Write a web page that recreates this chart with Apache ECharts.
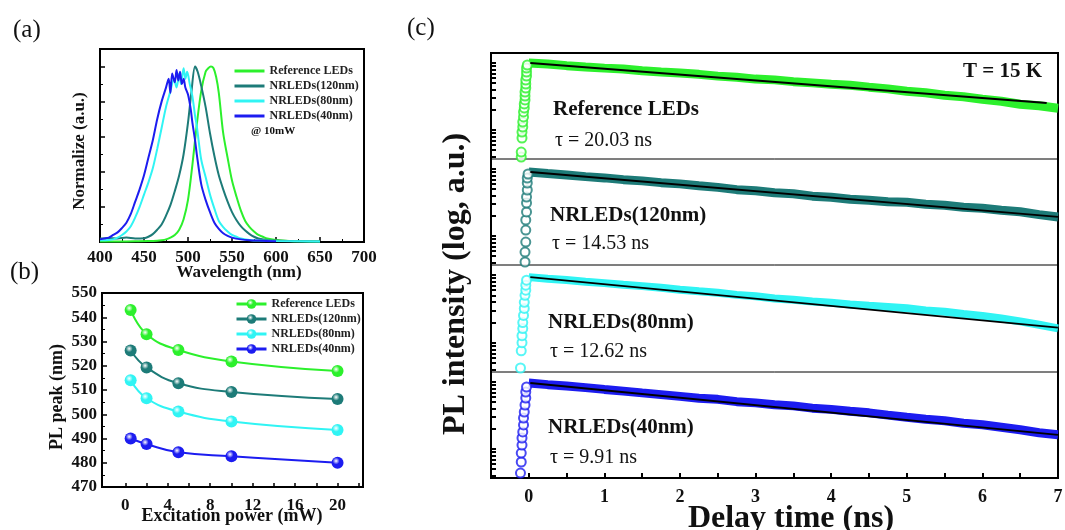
<!DOCTYPE html>
<html>
<head>
<meta charset="utf-8">
<script src="https://cdn.jsdelivr.net/npm/echarts@6.0.0/dist/echarts.min.js"></script>
<style>html,body{margin:0;padding:0;background:#fff}#chart{width:1065px;height:530px}</style>
</head>
<body>
<div id="chart"></div>
<script>
var FONT = 'Liberation Serif';
var names = ['Reference LEDs', 'NRLEDs(120nm)', 'NRLEDs(80nm)', 'NRLEDs(40nm)'];
var colors = ['#2cf02c', '#1d7b78', '#30f4f4', '#1c1cf0'];
var taus = ['τ = 20.03 ns', 'τ = 14.53 ns', 'τ = 12.62 ns', 'τ = 9.91 ns'];

// (a) 归一化PL光谱 [波长nm, 强度]
var specRef = [[400,0.003],[420,0.003],[440,0.004],[455,0.005],[465,0.007],[470,0.01],[475,0.015],[480,0.025],[485,0.04],[490,0.07],[495,0.13],[500,0.24],[505,0.44],[510,0.67],[515,0.86],[520,0.97],[523,0.99],[526,1.0],[529,0.99],[532,0.94],[535,0.85],[540,0.62],[545,0.48],[550,0.35],[555,0.26],[560,0.18],[565,0.12],[570,0.085],[575,0.06],[580,0.04],[585,0.03],[590,0.02],[600,0.012],[615,0.006],[630,0.004],[650,0.003]];
var spec120 = [[400,0.02],[410,0.022],[420,0.02],[430,0.025],[440,0.02],[450,0.022],[455,0.03],[460,0.045],[465,0.07],[470,0.1],[475,0.15],[480,0.21],[485,0.29],[490,0.38],[495,0.5],[500,0.68],[504,0.86],[508,1.0],[511,0.97],[515,0.89],[520,0.77],[525,0.62],[530,0.49],[535,0.38],[540,0.3],[545,0.23],[550,0.17],[555,0.125],[560,0.09],[565,0.065],[570,0.045],[575,0.03],[580,0.02],[590,0.012],[600,0.008],[620,0.005],[650,0.003]];
var spec80 = [[400,0.01],[410,0.012],[415,0.015],[420,0.025],[425,0.04],[430,0.06],[435,0.09],[440,0.14],[445,0.2],[450,0.27],[455,0.34],[460,0.42],[465,0.53],[470,0.65],[475,0.77],[480,0.86],[484,0.93],[487,0.88],[490,0.96],[492,0.9],[495,0.99],[497,0.93],[499,0.97],[502,0.9],[505,0.83],[508,0.72],[510,0.66],[515,0.47],[520,0.37],[525,0.27],[530,0.19],[535,0.12],[540,0.085],[545,0.06],[550,0.04],[555,0.03],[560,0.02],[570,0.012],[580,0.008],[600,0.005],[650,0.003]];
var spec40 = [[400,0.015],[405,0.02],[410,0.025],[415,0.04],[420,0.055],[425,0.08],[430,0.11],[435,0.16],[440,0.23],[445,0.3],[450,0.38],[455,0.48],[460,0.58],[465,0.7],[470,0.8],[475,0.88],[478,0.93],[480,0.85],[482,0.96],[485,0.91],[487,0.98],[489,0.92],[491,0.97],[493,0.9],[495,0.93],[497,0.88],[500,0.84],[503,0.76],[505,0.68],[508,0.58],[510,0.5],[515,0.33],[520,0.24],[525,0.17],[530,0.11],[535,0.075],[540,0.05],[545,0.035],[550,0.025],[560,0.015],[570,0.01],[580,0.008],[600,0.004]];

// (b) PL峰位 vs 激发功率
var powerX = [0.5, 2, 5, 10, 20];
var peakRef = [543, 533, 526.5, 521.8, 517.8];
var peak120 = [526.3, 519.3, 512.8, 509.2, 506.3];
var peak80 = [514, 506.6, 501.1, 497, 493.5];
var peak40 = [490, 487.7, 484.3, 482.7, 480];

// (c) 时间分辨PL (counts)
var decayT = [0,0.25,0.5,0.75,1,1.25,1.5,1.75,2,2.25,2.5,2.75,3,3.25,3.5,3.75,4,4.25,4.5,4.75,5,5.25,5.5,5.75,6,6.25,6.5,6.75,7];
var decayRef = [10020,9700,9150,8760,8400,8180,7700,7380,7080,6780,6380,6120,5760,5610,5280,5060,4840,4650,4370,4120,3800,3600,3310,3140,2890,2690,2430,2300,2120];
var decay120 = [9050,8560,8180,7710,7380,6950,6660,6270,6010,5650,5330,4930,4730,4440,4270,3940,3790,3550,3420,3260,3190,2990,2880,2700,2600,2430,2300,2090,1930];
var decay80 = [9350,8870,8450,8000,7620,7210,6880,6500,6100,5770,5500,5110,4880,4530,4330,4090,3900,3690,3520,3390,3230,3000,2870,2660,2500,2280,2070,1850,1630];
var decay40 = [9700,9150,8760,8260,7770,7320,6890,6490,6110,5750,5520,5100,4890,4600,4410,4080,3910,3680,3470,3210,2980,2790,2640,2430,2300,2120,1940,1750,1630];
var riseRef = [[-0.10,396],[-0.10,470],[-0.09,761],[-0.09,935],[-0.08,1111],[-0.08,1319],[-0.07,1568],[-0.07,1862],[-0.06,2136],[-0.06,2450],[-0.05,2811],[-0.05,3225],[-0.05,3700],[-0.04,4244],[-0.04,4869],[-0.04,5587],[-0.03,6409],[-0.03,7353],[-0.03,8436],[-0.02,9352]];
var rise120 = [[-0.05,410],[-0.05,578],[-0.04,815],[-0.04,1231],[-0.04,1736],[-0.03,2288],[-0.03,3116],[-0.03,3829],[-0.02,4869],[-0.02,6193],[-0.02,7353],[-0.01,8436]];
var rise80 = [[-0.11,424],[-0.10,761],[-0.09,1002],[-0.09,1274],[-0.08,1623],[-0.08,1994],[-0.07,2536],[-0.06,3225],[-0.06,3963],[-0.05,5040],[-0.04,5984],[-0.04,7105],[-0.03,8436]];
var rise40 = [[-0.11,439],[-0.10,641],[-0.10,873],[-0.09,1149],[-0.09,1462],[-0.08,1799],[-0.07,2288],[-0.07,2909],[-0.06,3575],[-0.05,4546],[-0.04,5782],[-0.04,7105],[-0.03,8436]];
var fitRef = [[0.02,10017],[6.85,2536]];
var fit120 = [[0.02,9036],[7,1927]];
var fit80 = [[0.02,9352],[7,1680]];
var fit40 = [[0.02,9679],[7,1623]];

var logTicks = [400,500,600,700,800,900,1000,2000,3000,4000,5000,6000,7000,8000,9000,10000];
var delayLabels = [0,1,2,3,4,5,6,7];
var delayTicks = [0,0.5,1,1.5,2,2.5,3,3.5,4,4.5,5,5.5,6,6.5];
var powerLabels = [0,4,8,12,16,20];
var powerTicks = [0,2,4,6,8,10,12,14,16,18,20,22];

var specs = [specRef, spec120, spec80, spec40];
var peaks = [peakRef, peak120, peak80, peak40];
var decays = [decayRef, decay120, decay80, decay40];
var rises = [riseRef, rise120, rise80, rise40];
var fits = [fitRef, fit120, fit80, fit40];
var bandWidth = [9, 9, 8, 9];

var subTops = [53, 159, 265, 372];
var subHeights = [106, 106, 107, 106];

var lbl = {fontFamily: FONT, fontWeight: 'bold', color: '#111'};
var noSplit = {show: false};

var grids = [
	{left: 100, top: 49, width: 264, height: 193, show: true, borderColor: '#000', borderWidth: 2, outerBoundsMode: 'none'},
	{left: 102, top: 293, width: 261, height: 194, show: true, borderColor: '#000', borderWidth: 2, outerBoundsMode: 'none'}
];
for (var i = 0; i < 4; i++) {
	grids.push({left: 491, top: subTops[i], width: 567, height: subHeights[i], show: true, borderColor: '#555', borderWidth: 1, outerBoundsMode: 'none'});
}
grids.push({left: 491, top: 53, width: 567, height: 425, show: true, borderColor: '#000', borderWidth: 2, outerBoundsMode: 'none'});

var xAxes = [
	{gridIndex: 0, type: 'value', min: 400, max: 700, interval: 50,
		axisLine: {onZero: false, lineStyle: {color: '#000', width: 2}},
		axisTick: {inside: true, length: 5, lineStyle: {color: '#000', width: 1.5}},
		minorTick: {show: true, splitNumber: 2, length: 3, lineStyle: {color: '#000'}},
		axisLabel: Object.assign({fontSize: 17, margin: 7}, lbl), splitLine: noSplit},
	{gridIndex: 1, type: 'value', min: -2.2, max: 22.4,
		axisLine: {onZero: false, lineStyle: {color: '#000', width: 2}},
		axisTick: {inside: true, length: 4, customValues: powerTicks, lineStyle: {color: '#000', width: 1.5}},
		axisLabel: Object.assign({fontSize: 17, margin: 10, customValues: powerLabels}, lbl), splitLine: noSplit}
];
var yAxes = [
	{gridIndex: 0, type: 'value', min: 0, max: 1.1, interval: 0.2,
		axisLine: {onZero: false, lineStyle: {color: '#000', width: 2}},
		axisTick: {inside: true, length: 5, lineStyle: {color: '#000', width: 1.5}},
		minorTick: {show: true, splitNumber: 2, length: 3, lineStyle: {color: '#000'}},
		axisLabel: {show: false}, splitLine: noSplit},
	{gridIndex: 1, type: 'value', min: 470, max: 550, interval: 10,
		axisLine: {onZero: false, lineStyle: {color: '#000', width: 2}},
		axisTick: {inside: true, length: 5, lineStyle: {color: '#000', width: 1.5}},
		minorTick: {show: true, splitNumber: 2, length: 3, lineStyle: {color: '#000'}},
		axisLabel: Object.assign({fontSize: 17, margin: 5}, lbl), splitLine: noSplit}
];

var series = [];
// (a)
for (var i = 0; i < 4; i++) {
	series.push({name: names[i], type: 'line', xAxisIndex: 0, yAxisIndex: 0, data: specs[i],
		symbol: 'none', smooth: 0.3, lineStyle: {color: colors[i], width: 2}, itemStyle: {color: colors[i]}});
}
// (b)
for (var i = 0; i < 4; i++) {
	var pts = powerX.map(function (x, k) { return [x, peaks[i][k]]; });
	series.push({name: 'b|' + names[i], type: 'line', xAxisIndex: 1, yAxisIndex: 1, data: pts,
		smooth: 0.45, symbol: 'circle', symbolSize: 12,
		lineStyle: {color: colors[i], width: 2},
		itemStyle: {color: {type: 'radial', x: 0.38, y: 0.35, r: 0.65, colorStops: [
			{offset: 0, color: '#ffffff'}, {offset: 0.45, color: colors[i]}, {offset: 1, color: colors[i]}]}}});
}
// (c)
for (var i = 0; i < 4; i++) {
	var g = 2 + i;
	var isLast = i === 3;
	xAxes.push({gridIndex: g, type: 'value', min: -0.5, max: 7,
		axisLine: {show: isLast, onZero: false, lineStyle: {color: '#000', width: 2}},
		axisTick: {show: isLast, inside: true, length: 5, customValues: delayTicks, lineStyle: {color: '#000', width: 2}},
		axisLabel: Object.assign({show: isLast, fontSize: 18, margin: 10, customValues: delayLabels}, lbl),
		splitLine: noSplit});
	var xi = xAxes.length - 1;
	yAxes.push({gridIndex: g, type: 'log', logBase: 10, min: 370, max: 14125,
		axisLine: {onZero: false, lineStyle: {color: '#000', width: 2}},
		axisTick: {inside: true, length: 5, customValues: logTicks, lineStyle: {color: '#000', width: 2}},
		axisLabel: {show: false}, splitLine: noSplit});
	var yi = yAxes.length - 1;
	var band = decayT.map(function (t, k) { return [t, decays[i][k]]; });
	series.push({type: 'line', xAxisIndex: xi, yAxisIndex: yi, data: band, symbol: 'none',
		lineStyle: {color: colors[i], width: bandWidth[i]}, z: 3});
	series.push({type: 'scatter', xAxisIndex: xi, yAxisIndex: yi, data: rises[i], symbol: 'emptyCircle', symbolSize: 9,
		itemStyle: {color: colors[i], borderWidth: 1.2}, z: 3});
	series.push({type: 'line', xAxisIndex: xi, yAxisIndex: yi, data: fits[i], symbol: 'none',
		lineStyle: {color: '#000', width: 1.8}, z: 4});
}
xAxes.push({gridIndex: 6, type: 'value', show: false, min: 0, max: 1});
yAxes.push({gridIndex: 6, type: 'value', show: false, min: 0, max: 1});

function txt(x, y, s, size, bold, extra) {
	return Object.assign({type: 'text', x: x, y: y, z: 100, style: {text: s, fontFamily: FONT, fontSize: size,
		fontWeight: bold ? 'bold' : 'normal', fill: '#111', align: 'left', verticalAlign: 'middle'}}, extra || {});
}
var graphics = [
	txt(13, 30, '(a)', 25, false),
	txt(10, 272, '(b)', 25, false),
	txt(407, 28, '(c)', 25, false),
	txt(251, 131, '@ 10mW', 11, true),
	txt(1042, 72, 'T = 15 K', 21, true, {}),
	txt(80, 151, 'Normalize (a.u.)', 17, true, {rotation: Math.PI / 2}),
	txt(239, 273, 'Wavelength (nm)', 17, true),
	txt(57, 397, 'PL peak (nm)', 18, true, {rotation: Math.PI / 2}),
	txt(232, 516, 'Excitation power (mW)', 18, true),
	txt(456, 284, 'PL intensity (log, a.u.)', 32, true, {rotation: Math.PI / 2}),
	txt(791, 519, 'Delay time (ns)', 32, true)
];
graphics[4].style.align = 'right';
[5, 6, 7, 8, 9, 10].forEach(function (k) { graphics[k].style.align = 'center'; });
var labelY = [[110, 141], [216, 244], [323, 352], [428, 458]];
var labelX = [553, 550, 548, 548];
for (var i = 0; i < 4; i++) {
	graphics.push(txt(labelX[i], labelY[i][0], names[i], 21, true));
	graphics.push(txt(labelX[i] + 2, labelY[i][1], taus[i], 20, false));
}

var chart = echarts.init(document.getElementById('chart'));
chart.setOption({
	animation: false,
	backgroundColor: '#fff',
	legend: [
		{data: names, left: 233, top: 65, orient: 'vertical', itemWidth: 30, itemHeight: 12, itemGap: 3, padding: 0,
			itemStyle: {opacity: 0}, lineStyle: {width: 3},
			textStyle: {fontFamily: FONT, fontWeight: 'bold', fontSize: 12, color: '#222'}},
		{data: names.map(function (n) { return 'b|' + n; }), left: 235, top: 298, orient: 'vertical',
			itemWidth: 30, itemHeight: 12, itemGap: 3, padding: 0, lineStyle: {width: 3},
			formatter: function (n) { return n.replace('b|', ''); },
			textStyle: {fontFamily: FONT, fontWeight: 'bold', fontSize: 12, color: '#222'}}
	],
	grid: grids,
	xAxis: xAxes,
	yAxis: yAxes,
	series: series,
	graphic: graphics
});
</script>
</body>
</html>
